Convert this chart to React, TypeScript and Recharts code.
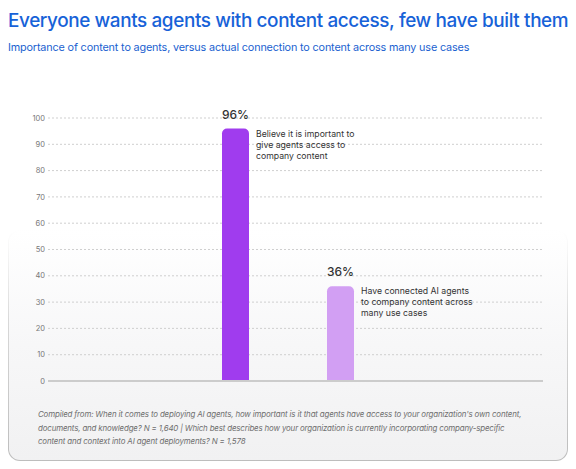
import { Bar, BarChart, CartesianGrid, Cell, LabelList, ReferenceLine, XAxis, YAxis } from "recharts";

const categories = ["Important", "Connected"];
const values = [96, 36];
const barColors = ["#a03cee", "#d29ff3"];
const notes = [
  ["Believe it is important to", "give agents access to", "company content"],
  ["Have connected AI agents", "to company content across", "many use cases"],
];
const yTicks = [0, 10, 20, 30, 40, 50, 60, 70, 80, 90, 100];

const footnote = [
  "Compiled from: When it comes to deploying AI agents, how important is it that agents have access to your organization's own content,",
  "documents, and knowledge? N = 1,640 | Which best describes how your organization is currently incorporating company-specific",
  "content and context into AI agent deployments? N = 1,578",
];

const font = "Inter, 'Noto Sans', sans-serif";

const data = categories.map((name, i) => ({ name, value: values[i], idx: i }));

function PercentLabel(props: any) {
  const { x, y, width, value } = props;
  return (
    <text x={x + width / 2} y={y - 10} textAnchor="middle" fontSize={12} fontWeight={500} fill="#333" fontFamily={font}>
      {value}%
    </text>
  );
}

function NoteLabel(props: any) {
  const { x, y, width, index } = props;
  const lines = notes[index] ?? [];
  return (
    <text x={x + width + 7} y={y + 8} fontSize={8.7} fill="#333" fontFamily={font}>
      {lines.map((l, i) => (
        <tspan key={i} x={x + width + 7} dy={i === 0 ? 0 : 11}>
          {l}
        </tspan>
      ))}
    </text>
  );
}

export default function App() {
  return (
    <div style={{ position: "relative", width: 576, height: 469, margin: -8, background: "#fff", fontFamily: font, overflow: "hidden" }}>
      <div
        style={{
          position: "absolute",
          left: 8,
          top: 230,
          width: 560,
          height: 231,
          borderRadius: 12,
          padding: 1,
          boxSizing: "border-box",
          background: "linear-gradient(to bottom, rgba(190,190,190,0) 0%, rgba(190,190,190,0.6) 40%, #bdbdbd 100%)",
        }}
      >
        <div
          style={{
            width: "100%",
            height: "100%",
            borderRadius: 11,
            background: "linear-gradient(to bottom, #ffffff 0%, #f7f7f8 50%, #f1f1f2 100%)",
          }}
        />
      </div>
      <div style={{ position: "absolute", left: 8, top: 9, fontSize: 18.9, fontWeight: 500, color: "#1762d8", letterSpacing: -0.38, whiteSpace: "nowrap" }}>
        Everyone wants agents with content access, few have built them
      </div>
      <div style={{ position: "absolute", left: 8, top: 41, fontSize: 10.8, color: "#1a5fd0", letterSpacing: -0.15, whiteSpace: "nowrap" }}>
        Importance of content to agents, versus actual connection to content across many use cases
      </div>
      <div style={{ position: "absolute", left: 0, top: 0 }}>
        <BarChart width={576} height={469} data={data} margin={{ top: 118, right: 33, bottom: 88, left: 18 }}>
          <CartesianGrid vertical={false} strokeDasharray="2 2" stroke="#cfcfcf" />
          <XAxis dataKey="name" hide padding={{ left: 135, right: 150 }} />
          <YAxis
            domain={[0, 100]}
            ticks={yTicks}
            width={30}
            axisLine={false}
            tickLine={false}
            tickSize={0}
            tickMargin={3}
            tick={{ fontSize: 7.5, fill: "#777", fontFamily: font }}
          />
          <ReferenceLine y={0} stroke="#cccccc" strokeWidth={2} />
          <Bar dataKey="value" barSize={27} radius={[5, 5, 0, 0]} isAnimationActive={false}>
            {data.map((d) => (
              <Cell key={d.name} fill={barColors[d.idx]} />
            ))}
            <LabelList dataKey="value" content={PercentLabel} />
            <LabelList dataKey="value" content={NoteLabel} />
          </Bar>
        </BarChart>
      </div>
      <div style={{ position: "absolute", left: 38, top: 408, fontSize: 7.9, fontStyle: "italic", color: "#6e6e6e", letterSpacing: -0.15, lineHeight: "13.5px", whiteSpace: "nowrap" }}>
        {footnote.map((l, i) => (
          <div key={i}>{l}</div>
        ))}
      </div>
    </div>
  );
}
